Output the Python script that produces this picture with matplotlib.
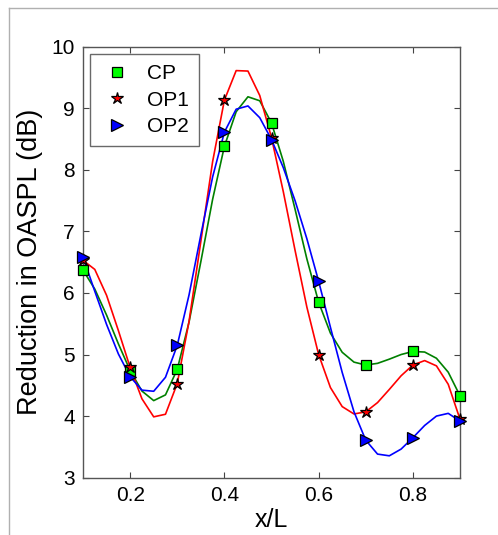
import numpy as np
import matplotlib
matplotlib.use("Agg")
import matplotlib.pyplot as plt
from matplotlib.lines import Line2D

plt.rcParams['font.family'] = ['Liberation Sans', 'DejaVu Sans']

# ---- data ----
x_pos = [0.1, 0.2, 0.3, 0.4, 0.5, 0.6, 0.7, 0.8, 0.9]
cp_vals = [6.37, 4.74, 4.76, 8.38, 8.76, 5.85, 4.83, 5.05, 4.33]
op1_vals = [6.53, 4.79, 4.53, 9.13, 8.52, 5.00, 4.07, 4.83, 3.95]
op2_vals = [6.58, 4.64, 5.15, 8.61, 8.49, 6.19, 3.61, 3.65, 3.92]
series_names = ["CP", "OP1", "OP2"]
x_ticks = [0.2, 0.4, 0.6, 0.8]
y_ticks = [3, 4, 5, 6, 7, 8, 9, 10]


def spline_notaknot(x, y, xx):
    """Cubic spline (not-a-knot) through the data, evaluated at xx."""
    x = np.asarray(x, float)
    y = np.asarray(y, float)
    n = len(x)
    h = np.diff(x)
    A = np.zeros((n, n))
    b = np.zeros(n)
    for i in range(1, n - 1):
        A[i, i - 1] = h[i - 1]
        A[i, i] = 2 * (h[i - 1] + h[i])
        A[i, i + 1] = h[i]
        b[i] = 6 * ((y[i + 1] - y[i]) / h[i] - (y[i] - y[i - 1]) / h[i - 1])
    A[0, 0], A[0, 1], A[0, 2] = -h[1], h[0] + h[1], -h[0]
    A[-1, -3], A[-1, -2], A[-1, -1] = -h[-1], h[-2] + h[-1], -h[-2]
    M = np.linalg.solve(A, b)
    idx = np.clip(np.searchsorted(x, xx) - 1, 0, n - 2)
    x0, x1 = x[idx], x[idx + 1]
    hh = x1 - x0
    return (M[idx] * (x1 - xx) ** 3 / (6 * hh) + M[idx + 1] * (xx - x0) ** 3 / (6 * hh)
            + (y[idx] / hh - M[idx] * hh / 6) * (x1 - xx)
            + (y[idx + 1] / hh - M[idx + 1] * hh / 6) * (xx - x0))


fig = plt.figure(figsize=(4.98, 5.35), dpi=100)
ax = fig.add_axes([0.1667, 0.107, 0.757, 0.806])

xx = np.linspace(x_pos[0], x_pos[-1], 33)
line_colors = ["#008000", "#ff0000", "#0000ff"]
all_vals = [cp_vals, op1_vals, op2_vals]
for vals, c in zip(all_vals, line_colors):
    ax.plot(xx, spline_notaknot(x_pos, vals, xx), color=c, lw=1.2, zorder=2)

ax.plot(x_pos, cp_vals, linestyle='none', marker='s', ms=7.5, mfc='#00ff00',
        mec='black', mew=0.9, label=series_names[0], zorder=3, clip_on=False)
ax.plot(x_pos, op1_vals, linestyle='none', marker='*', ms=9, mfc='#ff0000',
        mec='black', mew=0.9, label=series_names[1], zorder=3, clip_on=False)
ax.plot(x_pos, op2_vals, linestyle='none', marker='>', ms=9, mfc='#0000ff',
        mec='black', mew=0.9, label=series_names[2], zorder=3, clip_on=False)

ax.set_xlim(0.1, 0.9)
ax.set_ylim(3, 10)
ax.set_xticks(x_ticks)
ax.set_xticklabels([f"{t:.1f}" for t in x_ticks])
ax.set_yticks(y_ticks)
ax.tick_params(direction='in', length=4, width=0.8, top=True, right=True,
               labelsize=15, color='#444444', pad=6)
for s in ax.spines.values():
    s.set_color('#555555')
    s.set_linewidth(1.0)
ax.set_xlabel("x/L", fontsize=18, labelpad=2)
ax.set_ylabel("Reduction in OASPL (dB)", fontsize=19.5, labelpad=6)

leg = ax.legend(loc='upper left', fontsize=15, frameon=True, fancybox=False,
                edgecolor='#444444', borderpad=0.5, handletextpad=0.6,
                labelspacing=0.35, borderaxespad=0.35, handlelength=1.6)
leg.get_frame().set_linewidth(1.0)

# light gray border of the original screenshot (top and left)
fig.add_artist(Line2D([9 / 498, 9 / 498], [0, 1 - 8 / 535], color='#b0b0b0', lw=1.0))
fig.add_artist(Line2D([9 / 498, 1], [1 - 8 / 535, 1 - 8 / 535], color='#b0b0b0', lw=1.0))

fig.savefig("out.png", dpi=100)
